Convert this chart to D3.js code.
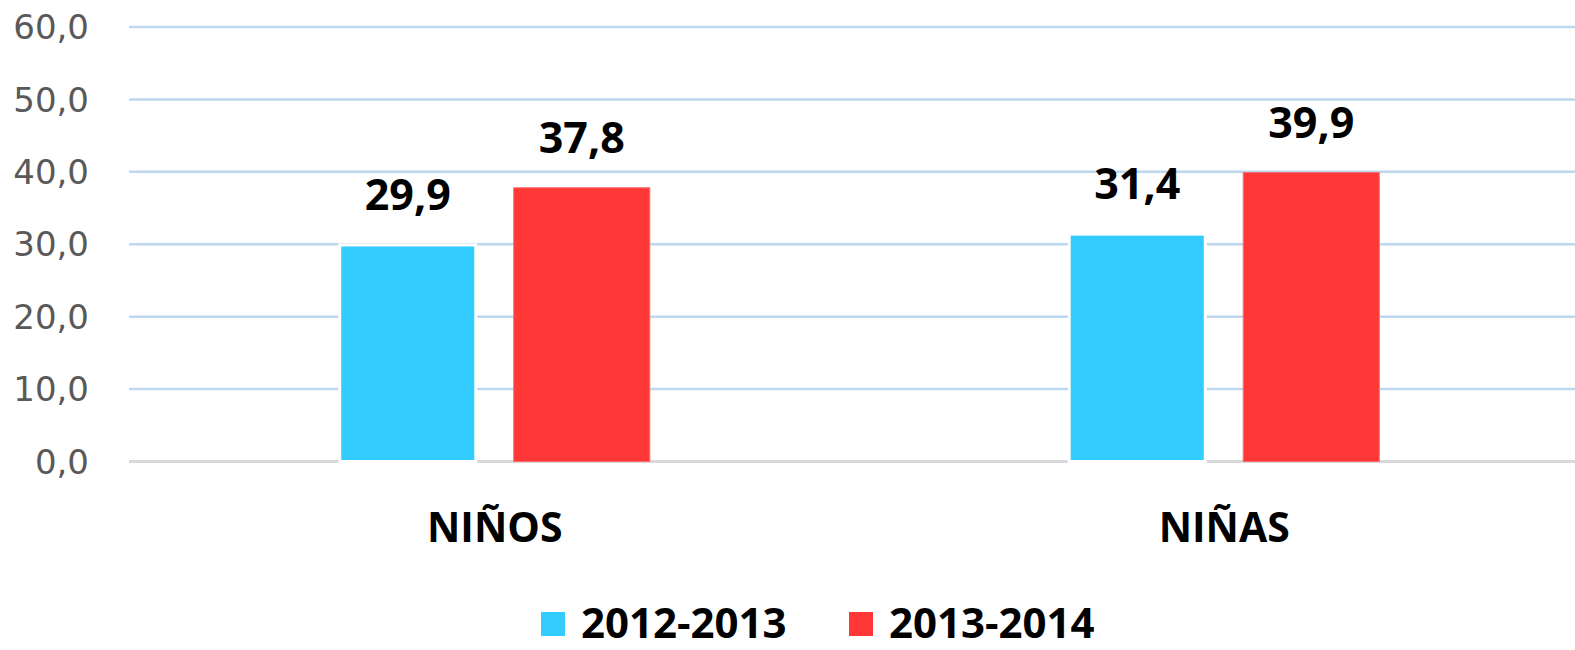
<!DOCTYPE html>
<html>
<head>
    <meta charset='utf-8'>
    <title>Niños / Niñas</title>
    <style>
    body {
      margin: 0;
      background: #fff;
    }
    svg {
      display: block;
    }
    </style>
    <script src='https://d3js.org/d3.v7.min.js'></script>
</head>
<body>
<div id="container"></div>
<script>
// ******* Data *******
const categories = ["NIÑOS", "NIÑAS"];
const series = ["2012-2013", "2013-2014"];
const values_2012 = [29.9, 31.4];
const values_2013 = [37.8, 39.9];
const yTicks = [0, 10, 20, 30, 40, 50, 60];
const colors = ["#33CCFF", "#FF3737"];

const rows = categories.map((c, i) => ({
  category: c,
  values: [values_2012[i], values_2013[i]]
}));

// ******* Constants *******
const width = 1575,
      height = 650;

// ******* Scales *******
var y = d3.scaleLinear()
    .domain([0, 60])
    .range([461.5, 27]);

var x0 = d3.scaleBand()
    .domain(categories)
    .range([130, 1589])
    .paddingInner(0.523)
    .paddingOuter(0.2615);

var x1 = d3.scaleBand()
    .domain(series)
    .range([0, x0.bandwidth()])
    .paddingInner(0.218)
    .paddingOuter(0.109);

var color = d3.scaleOrdinal().domain(series).range(colors);

// ******* SVG *******
var svg = d3.select("#container").append("svg")
    .attr("width", width)
    .attr("height", height);

// gridlines
svg.selectAll("line.grid")
    .data(yTicks.filter(d => d > 0))
    .enter()
    .append("line")
    .attr("class", "grid")
    .attr("x1", 129)
    .attr("x2", width)
    .attr("y1", d => y(d))
    .attr("y2", d => y(d))
    .attr("stroke", "#BDD7EE")
    .attr("stroke-width", 2.5);

// baseline
svg.append("line")
    .attr("x1", 129)
    .attr("x2", width)
    .attr("y1", y(0))
    .attr("y2", y(0))
    .attr("stroke", "#D9D9D9")
    .attr("stroke-width", 3);

// y tick labels
svg.selectAll("text.ytick")
    .data(yTicks)
    .enter()
    .append("text")
    .attr("class", "ytick")
    .attr("x", 89)
    .attr("y", d => y(d))
    .attr("dy", "0.36em")
    .attr("text-anchor", "end")
    .attr("font-family", "'DejaVu Sans', sans-serif")
    .attr("font-size", 34)
    .attr("fill", "#595959")
    .text(d => d3.format(".1f")(d).replace(".", ","));

// ******* Bars *******
var groups = svg.selectAll("g.group")
    .data(rows)
    .enter()
    .append("g")
    .attr("class", "group")
    .attr("transform", d => "translate(" + x0(d.category) + ",0)");

var cells = groups.selectAll("g.cell")
    .data(d => d.values.map((v, i) => ({key: series[i], value: v})))
    .enter()
    .append("g");

cells.append("rect")
    .attr("x", d => x1(d.key))
    .attr("y", d => y(d.value))
    .attr("width", x1.bandwidth())
    .attr("height", d => y(0) - y(d.value))
    .attr("fill", d => color(d.key))
    .attr("stroke", d => d.key === series[0] ? "#fff" : "#FF6B6B")
    .attr("stroke-width", d => d.key === series[0] ? 3 : 1);

cells.append("text")
    .attr("x", d => x1(d.key) + x1.bandwidth() / 2)
    .attr("y", d => y(d.value) - 35)
    .attr("text-anchor", "middle")
    .attr("font-family", "'Open Sans', sans-serif")
    .attr("font-weight", "bold")
    .attr("font-size", 43)
    .attr("fill", "#000")
    .text(d => d3.format(".1f")(d.value).replace(".", ","));

// category labels
svg.selectAll("text.cat")
    .data(categories)
    .enter()
    .append("text")
    .attr("class", "cat")
    .attr("x", d => x0(d) + x0.bandwidth() / 2)
    .attr("y", 542)
    .attr("text-anchor", "middle")
    .attr("font-family", "'Open Sans', sans-serif")
    .attr("font-weight", "bold")
    .attr("font-size", 41)
    .attr("fill", "#000")
    .text(d => d);

// ******* Legend *******
var legendX = d3.scaleOrdinal().domain(series).range([541, 849]);

var legend = svg.selectAll("g.legend")
    .data(series)
    .enter()
    .append("g")
    .attr("class", "legend")
    .attr("transform", d => "translate(" + legendX(d) + ",612)");

legend.append("rect")
    .attr("width", 24)
    .attr("height", 24)
    .attr("fill", d => color(d));

legend.append("text")
    .attr("x", 40)
    .attr("y", 26)
    .attr("font-family", "'Open Sans', sans-serif")
    .attr("font-weight", "bold")
    .attr("font-size", 42)
    .attr("fill", "#000")
    .text(d => d);
</script>
</body>
</html>
